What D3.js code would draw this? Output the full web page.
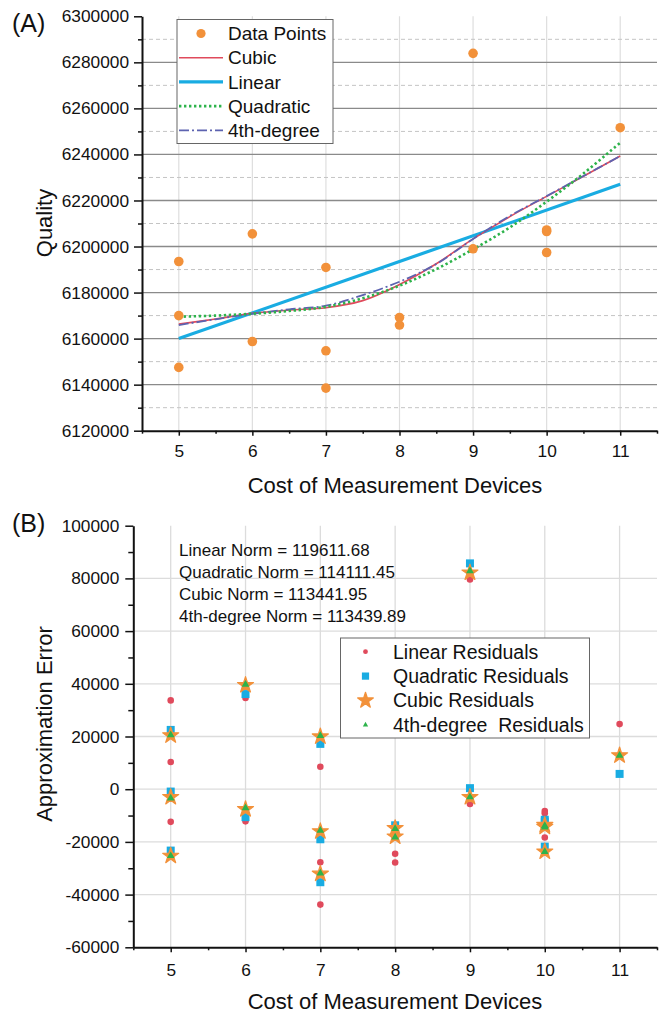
<!DOCTYPE html>
<html>
<head>
<meta charset="utf-8">
<script src="https://cdn.jsdelivr.net/npm/d3@7"></script>
<style>
  html, body { margin: 0; padding: 0; background: #fff; }
  svg { display: block; font-family: "Liberation Sans", Arial, sans-serif; }
</style>
</head>
<body>
<script>
// ---- Measured observations: cost of measurement devices vs. quality ----
const pointCost = [5, 5, 5, 6, 6, 7, 7, 7, 8, 8, 9, 9, 10, 10, 10, 11];
const pointQuality = [6193500, 6170000, 6147500, 6205500, 6158750, 6190900, 6154700, 6138500,
                      6169200, 6165900, 6199000, 6283900, 6207200, 6206500, 6197400, 6251600];

// ---- Fitted curves, sampled along the cost axis ----
const linearCost = [5, 11];
const linearFit = [6160000, 6227000];
const fitCost = [5, 5.5, 6, 6.5, 7, 7.5, 8, 8.5, 9, 9.5, 10, 10.5, 11];
const quadraticFit = [6169500, 6170000, 6170800, 6172000, 6173800, 6177500, 6183000,
                      6190200, 6198800, 6208300, 6219500, 6231700, 6245100];
const cubicFit = [6166300, 6168500, 6171000, 6172400, 6173400, 6176500, 6183500,
                  6192500, 6203300, 6213000, 6221800, 6230500, 6239300];
const quarticFit = [6165900, 6168400, 6170800, 6172700, 6174300, 6178900, 6184700,
                    6192400, 6203300, 6213300, 6221900, 6230600, 6239300];

// ---- Residuals of each fit, in the same order as the observations ----
const linearResid = [33700, 10300, -12400, 34600, -12200, 8500, -27700, -43800,
                     -24500, -27800, -5600, 79600, -8300, -9100, -18300, 24700];
const quadraticResid = [22500, -900, -23300, 36100, -10600, 17200, -19000, -35300,
                        -13700, -17000, 400, 85700, -11600, -12300, -21800, 5800];
const cubicResid = [20400, -3000, -25300, 39500, -7600, 20000, -16000, -32100,
                    -14800, -18000, -3000, 82200, -13600, -14300, -23700, 12800];
const quarticResid = [20600, -3400, -25300, 39700, -7100, 20300, -15700, -31900,
                      -15000, -18200, -3000, 82800, -13900, -14400, -23700, 12800];

// ---- Residual norms ----
const normNames = ["Linear", "Quadratic", "Cubic", "4th-degree"];
const normValues = [119611.68, 114111.45, 113441.95, 113439.89];

// ---- Axis ticks ----
const costTicks = [5, 6, 7, 8, 9, 10, 11];
const costMinorTicks = [4.5, 5.5, 6.5, 7.5, 8.5, 9.5, 10.5, 11.5];
const qualityTicks = [6120000, 6140000, 6160000, 6180000, 6200000, 6220000, 6240000, 6260000, 6280000, 6300000];
const qualityMinorTicks = [6130000, 6150000, 6170000, 6190000, 6210000, 6230000, 6250000, 6270000, 6290000];
const errorTicks = [-60000, -40000, -20000, 0, 20000, 40000, 60000, 80000, 100000];
const errorMinorTicks = [-50000, -30000, -10000, 10000, 30000, 50000, 70000, 90000];

const C = {
  orange: "#f2913a",
  red: "#e04a5c",
  blue: "#19ace2",
  green: "#2db34b",
  slate: "#5d63b0",
  axisTitle: "22px",
  tick: "17.3px"
};

// plain integer labels with an ASCII hyphen for negatives
const plain = d => String(d);

const svg = d3.select("body").append("svg").attr("width", 664).attr("height", 1014);

// ================= Panel A =================
const xA = d3.scaleLinear().domain([4.5, 11.5]).range([142, 657]);
const yA = d3.scaleLinear().domain([6120000, 6300000]).range([430.7, 16.3]);
const gA = svg.append("g");

// grid
gA.append("g").selectAll("line").data(costTicks).join("line")
  .attr("x1", d => xA(d)).attr("x2", d => xA(d))
  .attr("y1", yA(6300000)).attr("y2", yA(6120000))
  .attr("stroke", "#dedede").attr("stroke-width", 1.2);
gA.append("g").selectAll("line").data(qualityMinorTicks).join("line")
  .attr("x1", xA(4.5)).attr("x2", xA(11.5))
  .attr("y1", d => yA(d)).attr("y2", d => yA(d))
  .attr("stroke", "#c4c4c4").attr("stroke-width", 1).attr("stroke-dasharray", "4,3");
gA.append("g").selectAll("line").data(qualityTicks.filter(d => d > 6120000 && d < 6300000)).join("line")
  .attr("x1", xA(4.5)).attr("x2", xA(11.5))
  .attr("y1", d => yA(d)).attr("y2", d => yA(d))
  .attr("stroke", "#8a8a8a").attr("stroke-width", 1.3);

// fitted curves
const lineA = (xs, ys, curve) => d3.line().x((d, i) => xA(xs[i])).y(d => yA(d)).curve(curve)(ys);
gA.append("path").attr("d", lineA(linearCost, linearFit, d3.curveLinear))
  .attr("fill", "none").attr("stroke", C.blue).attr("stroke-width", 3.2);
gA.append("path").attr("d", lineA(fitCost, cubicFit, d3.curveCatmullRom.alpha(0.5)))
  .attr("fill", "none").attr("stroke", C.red).attr("stroke-width", 1.6);
gA.append("path").attr("d", lineA(fitCost, quarticFit, d3.curveCatmullRom.alpha(0.5)))
  .attr("fill", "none").attr("stroke", C.slate).attr("stroke-width", 1.8)
  .attr("stroke-dasharray", "10,3,2,3");
gA.append("path").attr("d", lineA(fitCost, quadraticFit, d3.curveCatmullRom.alpha(0.5)))
  .attr("fill", "none").attr("stroke", C.green).attr("stroke-width", 2.6)
  .attr("stroke-dasharray", "2.4,2.6");

// observations
gA.append("g").selectAll("circle").data(pointQuality).join("circle")
  .attr("cx", (d, i) => xA(pointCost[i])).attr("cy", d => yA(d)).attr("r", 4.8)
  .attr("fill", C.orange);

// axes
gA.append("g").attr("transform", `translate(${xA(4.5)},0)`)
  .call(d3.axisLeft(yA).tickValues(qualityTicks).tickSize(8).tickSizeOuter(0).tickPadding(5)
    .tickFormat(plain));
gA.append("g").attr("transform", `translate(${xA(4.5)},0)`)
  .call(d3.axisLeft(yA).tickValues(qualityMinorTicks).tickSize(4).tickFormat(""))
  .select(".domain").remove();
gA.append("g").attr("transform", `translate(0,${yA(6120000)})`)
  .call(d3.axisBottom(xA).tickValues(costTicks).tickSize(5).tickSizeOuter(0).tickPadding(9)
    .tickFormat(plain));
gA.append("g").attr("transform", `translate(0,${yA(6120000)})`)
  .call(d3.axisBottom(xA).tickValues(costMinorTicks).tickSize(3).tickFormat(""))
  .select(".domain").remove();

// ================= Panel B =================
const xB = d3.scaleLinear().domain([4.5, 11.5]).range([133.3, 657]);
const yB = d3.scaleLinear().domain([-60000, 100000]).range([947.3, 525.7]);
const gB = svg.append("g");

gB.append("g").selectAll("line").data(costTicks).join("line")
  .attr("x1", d => xB(d)).attr("x2", d => xB(d))
  .attr("y1", yB(100000)).attr("y2", yB(-60000))
  .attr("stroke", "#dcdcdc").attr("stroke-width", 1.3);
gB.append("g").selectAll("line").data(errorTicks.filter(d => d > -60000 && d < 100000)).join("line")
  .attr("x1", xB(4.5)).attr("x2", xB(11.5))
  .attr("y1", d => yB(d)).attr("y2", d => yB(d))
  .attr("stroke", "#dcdcdc").attr("stroke-width", 1.3);

const sym = (type, size) => d3.symbol().type(type).size(size)();
const residualSeries = [
  { name: "Linear Residuals", values: linearResid, type: d3.symbolCircle, size: 34, legendSize: 18, color: C.red, outline: 0 },
  { name: "Quadratic Residuals", values: quadraticResid, type: d3.symbolSquare, size: 64, legendSize: 52, color: C.blue, outline: 0 },
  { name: "Cubic Residuals", values: cubicResid, type: d3.symbolStar, size: 80, legendSize: 76, color: C.orange, outline: 1.2 },
  { name: "4th-degree  Residuals", values: quarticResid, type: d3.symbolTriangle, size: 26, legendSize: 12, color: C.green, outline: 0 }
];
residualSeries.forEach(s => {
  gB.append("g").selectAll("path").data(s.values).join("path")
    .attr("transform", (d, i) => `translate(${xB(pointCost[i])},${yB(d)})`)
    .attr("d", sym(s.type, s.size)).attr("fill", s.color)
    .attr("stroke", s.outline ? s.color : "none").attr("stroke-width", s.outline)
    .attr("stroke-linejoin", "round");
});

gB.append("g").attr("transform", `translate(${xB(4.5)},0)`)
  .call(d3.axisLeft(yB).tickValues(errorTicks).tickSize(8).tickSizeOuter(0).tickPadding(6)
    .tickFormat(plain));
gB.append("g").attr("transform", `translate(${xB(4.5)},0)`)
  .call(d3.axisLeft(yB).tickValues(errorMinorTicks).tickSize(5).tickFormat(""))
  .select(".domain").remove();
gB.append("g").attr("transform", `translate(0,${yB(-60000)})`)
  .call(d3.axisBottom(xB).tickValues(costTicks).tickSize(5).tickSizeOuter(0).tickPadding(11)
    .tickFormat(plain));
gB.append("g").attr("transform", `translate(0,${yB(-60000)})`)
  .call(d3.axisBottom(xB).tickValues(costMinorTicks).tickSize(3).tickFormat(""))
  .select(".domain").remove();

// axis styling shared by both panels
svg.selectAll(".domain").attr("stroke", "#111").attr("stroke-width", 2);
svg.selectAll(".tick line").attr("stroke", "#111").attr("stroke-width", 1.5);
svg.selectAll(".tick text").attr("font-size", C.tick).attr("fill", "#111")
  .attr("font-family", "'Liberation Sans', Arial, sans-serif");

// ---- titles ----
const title = (x, y, text, rotate) => svg.append("text")
  .attr("transform", `translate(${x},${y})` + (rotate ? " rotate(-90)" : ""))
  .attr("text-anchor", "middle").attr("font-size", C.axisTitle).attr("fill", "#111").text(text);
title(395, 493, "Cost of Measurement Devices", false);
title(52, 223, "Quality", true);
title(395, 1009, "Cost of Measurement Devices", false);
title(52, 724, "Approximation Error", true);

svg.append("text").attr("x", 12).attr("y", 32).attr("font-size", "25px").attr("fill", "#111").text("(A)");
svg.append("text").attr("x", 12).attr("y", 532).attr("font-size", "25px").attr("fill", "#111").text("(B)");

// ---- legend A ----
const legA = svg.append("g");
legA.append("rect").attr("x", 177).attr("y", 19.5).attr("width", 156).attr("height", 124)
  .attr("fill", "#fff").attr("stroke", "#666").attr("stroke-width", 1);
const legAItems = [
  { label: "Data Points", kind: "dot" },
  { label: "Cubic", stroke: C.red, w: 1.6, dash: null },
  { label: "Linear", stroke: C.blue, w: 3.2, dash: null },
  { label: "Quadratic", stroke: C.green, w: 2.6, dash: "2.4,2.6" },
  { label: "4th-degree", stroke: C.slate, w: 1.8, dash: "10,3,2,3" }
];
legAItems.forEach((it, i) => {
  const cy = 33.5 + i * 24.2;
  if (it.kind === "dot") {
    legA.append("circle").attr("cx", 201).attr("cy", cy).attr("r", 4.6).attr("fill", C.orange);
  } else {
    legA.append("line").attr("x1", 179).attr("x2", 223).attr("y1", cy).attr("y2", cy)
      .attr("stroke", it.stroke).attr("stroke-width", it.w).attr("stroke-dasharray", it.dash);
  }
  legA.append("text").attr("x", 228).attr("y", cy).attr("dy", "0.35em")
    .attr("font-size", "19px").attr("fill", "#111").text(it.label);
});

// ---- norms ----
normNames.forEach((n, i) => {
  svg.append("text").attr("x", 179).attr("y", 550 + i * 22).attr("dy", "0.35em")
    .attr("font-size", "17px").attr("fill", "#111")
    .text(`${n} Norm = ${normValues[i].toFixed(2)}`);
});

// ---- legend B ----
const legB = svg.append("g");
legB.append("rect").attr("x", 340.5).attr("y", 638).attr("width", 249).attr("height", 100)
  .attr("fill", "#fff").attr("stroke", "#666").attr("stroke-width", 1);
residualSeries.forEach((s, i) => {
  const cy = 651.7 + i * 24.4;
  legB.append("path").attr("transform", `translate(365.5,${cy})`)
    .attr("d", sym(s.type, s.legendSize)).attr("fill", s.color)
    .attr("stroke", s.outline ? s.color : "none").attr("stroke-width", s.outline)
    .attr("stroke-linejoin", "round");
  legB.append("text").attr("x", 393).attr("y", cy).attr("dy", "0.35em")
    .attr("font-size", "19.5px").attr("fill", "#111")
    .style("white-space", "pre").text(s.name);
});
</script>
</body>
</html>
